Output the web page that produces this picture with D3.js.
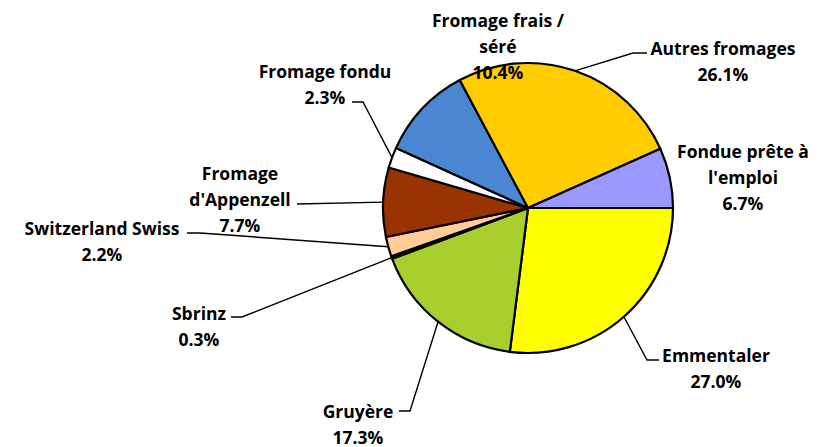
<!DOCTYPE html>
<html>
<head>
<meta charset="utf-8">
<script src="https://cdn.jsdelivr.net/npm/d3@7"></script>
<style>
  body { margin: 0; background: #fff; }
  svg text { font-family: "Open Sans", Lato, sans-serif; font-weight: bold; font-size: 17.5px; fill: #000; }
</style>
</head>
<body>
<svg id="chart"></svg>
<script>
'use strict';
// data
var categories = ['Emmentaler', 'Gruyère', 'Sbrinz', 'Switzerland Swiss', "Fromage d'Appenzell",
                  'Fromage fondu', 'Fromage frais / séré', 'Autres fromages', "Fondue prête à l'emploi"];
var shares = [27.0, 17.3, 0.3, 2.2, 7.7, 2.3, 10.4, 26.1, 6.7];
var labelLines = [['Emmentaler'], ['Gruyère'], ['Sbrinz'], ['Switzerland Swiss'], ['Fromage', "d'Appenzell"],
                  ['Fromage fondu'], ['Fromage frais /', 'séré'], ['Autres fromages'], ['Fondue prête à', "l'emploi"]];
var colors = ['#FFFF00', '#A8CF2E', '#2B2B2B', '#FFCC99', '#993300', '#FFFFFF', '#4A86D2', '#FFCC00', '#9999FF'];

// layout of labels: text centre (tx, ty of first line), elbow of leader, end of leader
var labelPos = [
  {tx: 716, ty: 355, ex: 647, ey: 360, hx: 659},
  {tx: 358, ty: 411, ex: 410, ey: 411, hx: 399},
  {tx: 199, ty: 313, ex: 242, ey: 317, hx: 231},
  {tx: 102, ty: 228, ex: 200, ey: 233, hx: 187},
  {tx: 240, ty: 173, ex: 297, ey: 204, hx: 297},
  {tx: 325, ty: 71,  ex: 363, ey: 102, hx: 352},
  {tx: 498, ty: 20,  ex: null},
  {tx: 723, ty: 48,  ex: 633, ey: 53, hx: 647},
  {tx: 743, ty: 151, ex: null}
];

var width = 823, height = 447;
var cx = 528, cy = 208, radius = 145, lineH = 26;

var svg = d3.select('#chart').attr('width', width).attr('height', height);

var pie = d3.pie().sort(null).value(function(d){ return d; })
    .startAngle(Math.PI / 2).endAngle(Math.PI / 2 + 2 * Math.PI);
var arcs = pie(shares);
var arc = d3.arc().innerRadius(0).outerRadius(radius);

var g = svg.append('g').attr('transform', 'translate(' + cx + ',' + cy + ')');
g.selectAll('path.slice')
    .data(arcs)
    .enter()
    .append('path')
    .attr('class', 'slice')
    .attr('d', arc)
    .attr('fill', function(d, i){ return colors[i]; })
    .attr('stroke', '#000')
    .attr('stroke-width', 2.2)
    .attr('stroke-linejoin', 'round');

// leader lines
arcs.forEach(function(d, i){
    var p = labelPos[i];
    if (p.ex === null) return;
    var mid = (d.startAngle + d.endAngle) / 2;
    var x0 = cx + radius * Math.sin(mid), y0 = cy - radius * Math.cos(mid);
    svg.append('path')
        .attr('d', 'M' + x0 + ',' + y0 + ' L' + p.ex + ',' + p.ey + ' L' + p.hx + ',' + p.ey)
        .attr('fill', 'none')
        .attr('stroke', '#000')
        .attr('stroke-width', 1.4);
});

// labels
arcs.forEach(function(d, i){
    var p = labelPos[i];
    var lines = labelLines[i].concat([d3.format('.1f')(shares[i]) + '%']);
    var t = svg.append('text').attr('text-anchor', 'middle');
    lines.forEach(function(s, k){
        t.append('tspan')
            .attr('x', p.tx)
            .attr('y', p.ty + k * lineH)
            .attr('dominant-baseline', 'central')
            .text(s);
    });
});
</script>
</body>
</html>
